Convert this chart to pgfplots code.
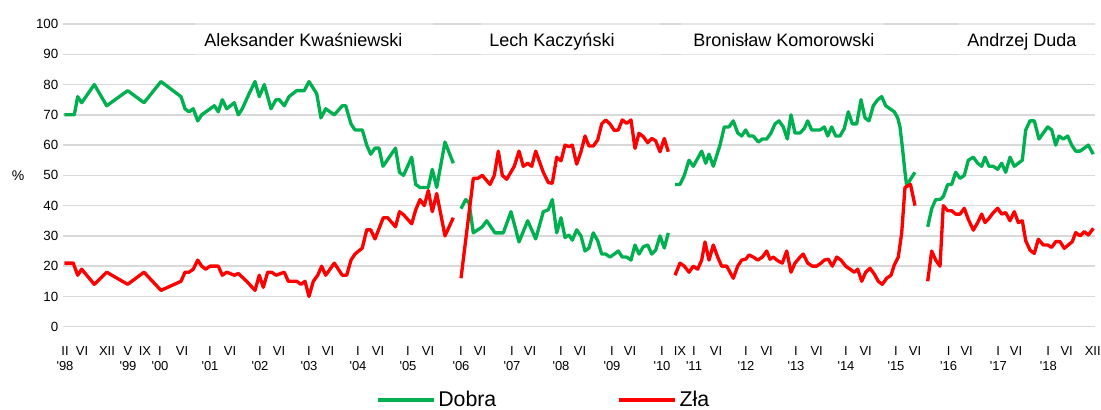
\documentclass[border=0pt]{standalone}
\usepackage{fontspec}
\setmainfont{Liberation Sans}
\usepackage{pgfplots}
\pgfplotsset{compat=1.18}
\definecolor{dgreen}{RGB}{0,176,80}
\definecolor{dred}{RGB}{255,0,0}
\definecolor{gridc}{RGB}{217,217,217}
\newcommand{\q}{\textquotesingle}
\begin{document}
\begin{tikzpicture}[x=1pt,y=1pt]
\path[use as bounding box] (0,0) rectangle (825.75,307.5);
\begin{axis}[
 at={(47.25pt,62.475pt)}, anchor=south west,
 scale only axis, width=774pt, height=227pt,
 xmin=63, xmax=1095, ymin=0, ymax=100,
 clip=false,
 axis line style={draw=none},
 major tick length=0pt,
 ytick={0,10,...,100},
 ymajorgrids,
 major grid style={line width=1.1pt, gridc},
 xtick={65,82,107,128,145,160,182,210,230,260,279,309,328,358,378,408,428,461,480,512,530,561,580,612,630,662,680,694,716,746,766.7,796,816.7,846,865.7,896,915,948.7,966.7,998.3,1016,1048.3,1066.7,1092.7},
 xticklabels={II\\\q98, VI, XII, V\\\q99, IX, I\\\q00, VI, I\\\q01, VI, I\\\q02, VI, I\\\q03, VI, I\\\q04, VI, I\\\q05, VI, I\\\q06, VI, I\\\q07, VI, I\\\q08, VI, I\\\q09, VI, I\\\q10, IX, I\\\q11, VI, I\\\q12, VI, I\\\q13, VI, I\\\q14, VI, I\\\q15, VI, I\\\q16, VI, I\\\q17, VI, I\\\q18, VI, XII},
 xticklabel style={align=center, font=\fontsize{9.75}{11.25}\selectfont, yshift=-11pt},
 yticklabel style={font=\fontsize{10}{12}\selectfont},
 /pgf/number format/assume math mode=true,
 unbounded coords=jump,
 legend style={at={(axis cs:372,-24.2)}, anchor=west, draw=none, fill=none, legend columns=2, font=\fontsize{16}{18}\selectfont, /tikz/every even column/.append style={column sep=89pt}},
 legend image code/.code={\draw[#1] (0pt,0pt) -- (37.5pt,0pt); \path (0pt,0pt) -- (42pt,0pt);},
]
% Dobra (green)
\addplot[dgreen, line width=2.5pt, line join=round] coordinates {
(64.3,70) (74.3,70) (77.7,76) (81.7,74) (94.3,80) (106.7,73) (127.7,78) (144,74) (161,81) (181,76) (185,72) (189,71) (193.3,72) (197.7,68) (201.7,70) (214.3,73) (218.3,71) (222.3,75) (226.7,72) (234.3,74) (238.3,70) (242.3,72) (247.7,76) (255,81) (259.3,76) (264.3,80) (271,72) (276,75) (279.3,75) (284.3,73) (289,76) (296.7,78) (304.3,78) (309,81) (316.7,77) (321,69) (325.7,72) (334.3,70) (342.3,73) (345.7,73) (351,67) (355,65) (362.3,65) (366.7,60) (370.7,57) (375,59) (379,59) (383,53) (395.5,59) (399.5,51) (403.5,50) (411.7,56) (415.7,47) (420,46) (428.3,46) (432.3,52) (436.7,46) (445,61) (453.3,54)
(457,nan)
(461,39) (465.7,42) (469,41) (473.3,31) (482.3,33) (486.7,35) (495,31) (503.3,31) (511,38) (519,28) (527.7,35) (535.7,29) (543.3,38) (548.3,38.6) (552.3,42) (556.7,31) (561,36) (565,29.5) (569,30.3) (572.3,28.6) (576.7,32) (581,30) (585,25) (589,26) (593.3,31) (597.7,28.4) (601.7,24) (605.7,24) (610,23) (614.3,24) (618.3,25) (622.3,23) (626.7,23) (631,22) (635,27) (639,24) (643.3,26.4) (647.7,27) (651.7,24) (655.7,25.3) (660,30) (664.3,26) (668.3,31)
(671,nan)
(675,47) (680,47) (684.3,50) (689,55) (693.3,53) (701.7,58) (705.7,54) (709,57) (713.3,53) (720,60) (724.3,66) (729,66) (733.3,68) (737.7,64) (741.7,63) (745.7,65) (749,63) (753.3,63) (758.3,61) (762.3,62) (766.7,62) (771,64) (775,67) (779,68) (783.3,66) (787.3,62) (791,70) (795,64) (800,64) (804.3,65.5) (807.7,68) (811.7,65) (815.7,65) (820,65) (824.3,66) (827.7,63) (831.7,66) (835.7,63) (840,63) (844.3,65.5) (848.3,71) (852.3,67) (856.7,67) (861,75) (865,69) (869,68) (873.3,73) (877.7,75) (881.7,76) (885.7,73) (890,72) (894.3,71) (897.7,69) (900,66) (902.3,59.5) (905,51) (906.7,46.5) (911,49) (915,51)
(921,nan)
(927.7,33) (931.7,39) (935.7,42) (940,42) (943.3,43) (947.7,47) (951.7,47) (955.7,51) (960,49) (964.3,50) (968.3,55) (973.3,56) (977.7,54) (981.7,53) (985,56) (989,53) (993.3,53) (997.7,52) (1001.7,54) (1005.7,51) (1010,56) (1014.3,53) (1018.3,54) (1022.3,55) (1025.7,65) (1030,68) (1034.3,68) (1039,62) (1043.3,64) (1047.7,66) (1051.7,65) (1055.7,60) (1059,63) (1063.3,62) (1067.7,63) (1071.7,60) (1075.7,58) (1080,58) (1084.3,59) (1088.3,60) (1093.3,57)
};
\addlegendentry{Dobra}
% Zla (red)
\addplot[dred, line width=2.5pt, line join=round] coordinates {
(64.3,21) (73.3,21) (77.7,17) (81.7,19) (94.3,14) (106.7,18) (127.7,14) (144,18) (161,12) (181,15) (185,18) (189,18) (193.3,19) (197.7,22) (201.7,20) (205.7,19) (210,20) (218.3,20) (222.3,17) (226.7,18) (230,17.6) (234.3,17) (238.3,17.6) (246.7,15) (255,12) (259.3,17) (263.3,13) (267.7,18) (271.7,18) (276,17) (284.3,18) (288.3,15) (296.7,15) (301,14) (305,15) (309,10) (313.3,15) (317.7,17) (321.7,20) (325.7,17) (334.3,21) (342.3,17) (346.7,17) (351,22) (355,24) (362.3,26) (366.7,32) (370.7,32) (375,29) (383.3,36) (387.7,36) (395.5,33) (399.5,38) (403.5,37) (411.7,34) (415.7,38.6) (420,42) (424.3,40) (428.3,45) (432.3,38) (436.7,44) (445,30) (453.3,36)
(457,nan)
(461,16) (473.3,49) (477.7,49) (482.3,50) (490,47) (494.3,50) (498.3,58) (502.3,50) (506.7,48.7) (514.3,53) (519,58) (523.3,53) (527.7,54) (531.7,53) (535.7,58) (543.3,51) (548.3,47.6) (552.3,47.4) (556.7,56) (561,54.8) (565,60) (569,59.5) (572.3,60) (576.7,53.7) (581,57.8) (585,63) (589,59.7) (593.3,59.7) (597.7,61.7) (601.7,67) (605.7,68.3) (610,67) (614.3,64.8) (618.3,65) (622.3,68.3) (626.7,67.2) (631,68.3) (635,58.9) (639,63.9) (643.3,62.8) (647.7,60.8) (651.7,62.2) (655.7,61.4) (660,57.8) (664.3,62.2) (668.3,57.8)
(671,nan)
(675,17) (680,21) (684.3,20) (689,18) (693.3,20) (697.7,19) (701.7,22) (705,28) (709,22) (713.3,27) (717.7,23) (721.7,20) (726.7,20) (733.3,16) (737.7,20) (741.7,22) (745.7,22.3) (749,23.7) (753.3,23) (757.7,22) (762.3,23) (766.7,25) (770,22.3) (773.3,23) (777.7,21.8) (782.3,21) (786.7,25) (791,18) (795,21) (800,23) (803.3,24) (807.7,21) (812.3,20) (816.7,20) (821,21) (824.3,22) (828.3,22.3) (832.3,20) (836.7,23) (841,22) (845.7,20) (850,19) (854.3,18) (857.7,19) (861.7,15) (865.7,18) (870,19.3) (874.3,17.4) (878.3,15) (882.3,14) (886.7,16) (891,17) (894.3,20.4) (898.3,23) (901.7,31) (905,46) (910.5,47) (915,40)
(921,nan)
(927.7,15) (931.7,25) (935.7,22) (940,20) (943.3,40) (947.7,38.3) (951.7,38.3) (955.7,37.2) (960,37.2) (964.3,39.1) (968.3,35.5) (973.3,31.9) (977.7,34.4) (981.7,37.2) (985,34.4) (989,35.8) (993.3,37.7) (997.7,39.1) (1001.7,37.2) (1005.7,37.7) (1010,35) (1014.3,38) (1018.3,34.4) (1022.3,35) (1025.7,28.4) (1030,25.3) (1034.3,24.2) (1038.3,28.9) (1043.3,27) (1047.7,27) (1051.7,26.2) (1055.7,28.1) (1060,28.1) (1064.3,25.9) (1068.3,27) (1072.3,28.1) (1075.7,31.1) (1080,30) (1084.3,31.4) (1088.3,30.3) (1093.3,32.5)
};
\addlegendentry{Zła}
% president label boxes
\fill[white, fill opacity=0.35] (axis cs:195,89.5) rectangle (axis cs:433,100.6);
\fill[white, fill opacity=0.35] (axis cs:481,89.5) rectangle (axis cs:660,100.6);
\fill[white, fill opacity=0.35] (axis cs:681,89.5) rectangle (axis cs:884,100.6);
\fill[white, fill opacity=0.35] (axis cs:958,89.5) rectangle (axis cs:1096,100.6);
\node[anchor=base, font=\fontsize{13.5}{16}\selectfont] at (axis cs:303.3,92.5) {Aleksander Kwaśniewski};
\node[anchor=base, font=\fontsize{13.5}{16}\selectfont] at (axis cs:552,92.5) {Lech Kaczyński};
\node[anchor=base, font=\fontsize{13.5}{16}\selectfont] at (axis cs:783.8,92.5) {Bronisław Komorowski};
\node[anchor=base, font=\fontsize{13.5}{16}\selectfont] at (axis cs:1022,92.5) {Andrzej Duda};
\node[font=\fontsize{10.5}{12}\selectfont] at (axis cs:18,50) {\%};
\end{axis}
\end{tikzpicture}
\end{document}
